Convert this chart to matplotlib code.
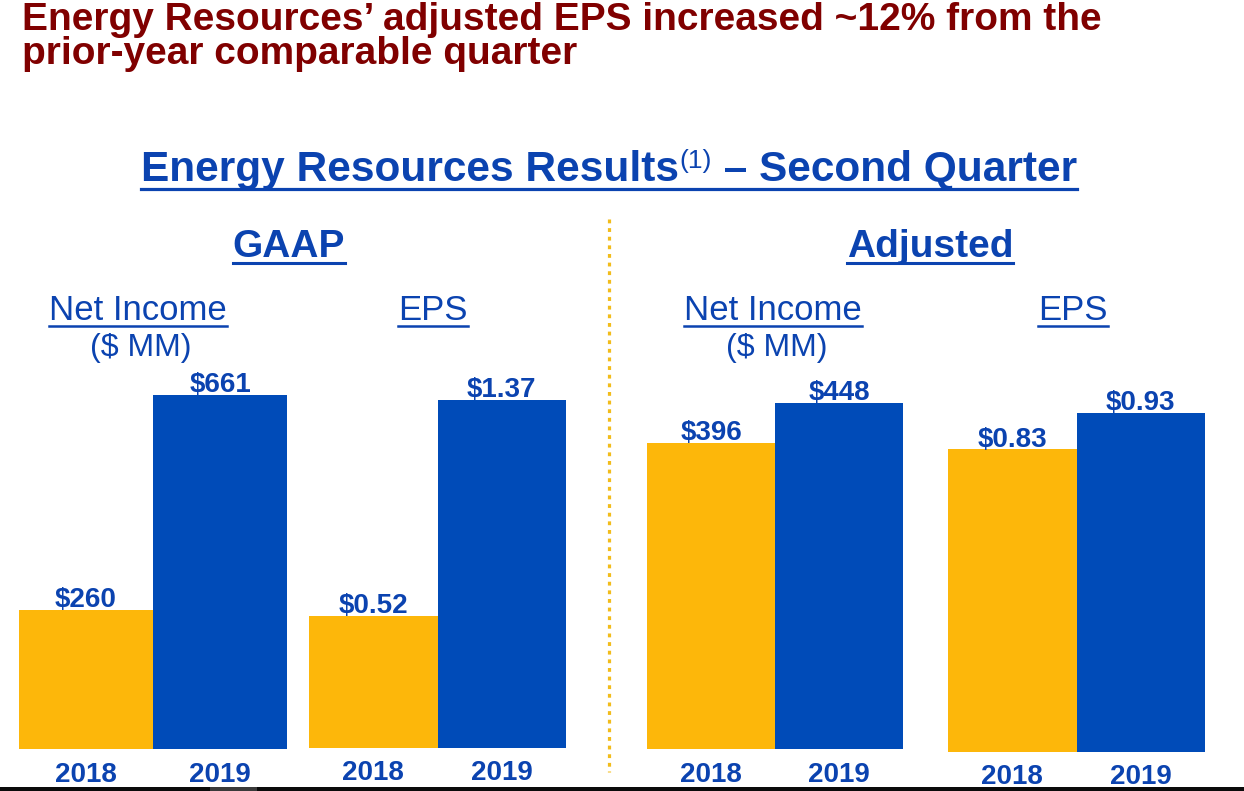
import matplotlib
matplotlib.use('Agg')
import matplotlib.pyplot as plt
from matplotlib.lines import Line2D
from matplotlib.patches import Rectangle

plt.rcParams['font.family'] = ['Liberation Sans', 'DejaVu Sans']

# ── Data ────────────────────────────────────────────────────────────────
years = ['2018', '2019']
gaap_ni = [260, 661]
gaap_eps = [0.52, 1.37]
adj_ni = [396, 448]
adj_eps = [0.83, 0.93]

ni_labels_gaap = ['$260', '$661']
eps_labels_gaap = ['$0.52', '$1.37']
ni_labels_adj = ['$396', '$448']
eps_labels_adj = ['$0.83', '$0.93']

GOLD = '#FDB70A'
BLUE = '#004BB8'
TEXT_BLUE = '#0B43B0'
DARK_RED = '#800000'
DOT_GOLD = '#F2BC1B'

W, H = 1244, 791
fig = plt.figure(figsize=(W / 100, H / 100), dpi=100)
fig.patch.set_facecolor('white')


def fx(px):
    return px / W


def fy(py):
    return 1 - py / H


# panels: (values, labels, left px, right px, top px of tallest bar, bottom px)
panels = [
    (gaap_ni, ni_labels_gaap, 19, 287, 395, 749),
    (gaap_eps, eps_labels_gaap, 309, 566, 400, 748),
    (adj_ni, ni_labels_adj, 647, 903, 403, 749),
    (adj_eps, eps_labels_adj, 948, 1205, 413, 752),
]

for vals, labs, l, r, t, b in panels:
    ax = fig.add_axes([fx(l), fy(b), fx(r - l), (b - t) / H])
    ax.bar([0, 1], vals, width=1.0, color=[GOLD, BLUE])
    ax.set_xlim(-0.5, 1.5)
    ax.set_ylim(0, max(vals))
    ax.set_xticks([0, 1])
    ax.set_xticklabels(years, fontsize=20, fontweight='bold', color=TEXT_BLUE)
    ax.tick_params(axis='x', length=0, pad=9)
    ax.set_yticks([])
    for s in ax.spines.values():
        s.set_visible(False)
    ax.patch.set_alpha(0)
    for i, (v, lab) in enumerate(zip(vals, labs)):
        ax.annotate(lab, (i, v), xytext=(0, 2), textcoords='offset points',
                    ha='center', va='baseline', fontsize=20, fontweight='bold',
                    color=TEXT_BLUE, annotation_clip=False)

renderer = fig.canvas.get_renderer()


def underlined(x, y, s, size, weight='normal', color=TEXT_BLUE, gap=6, lw=2.0):
    t = fig.text(fx(x), fy(y), s, ha='center', va='baseline', fontsize=size,
                 fontweight=weight, color=color)
    bb = t.get_window_extent(renderer)
    yy = fy(y + gap)
    fig.add_artist(Line2D([bb.x0 / W, bb.x1 / W], [yy, yy], color=color, lw=lw))
    return t


# ── Headline ───────────────────────────────────────────────────────────
fig.text(fx(22), fy(30), 'Energy Resources\u2019 adjusted EPS increased ~12% from the',
         ha='left', va='baseline', fontsize=28, fontweight='bold', color=DARK_RED)
fig.text(fx(22), fy(64), 'prior-year comparable quarter',
         ha='left', va='baseline', fontsize=28, fontweight='bold', color=DARK_RED)

# ── Section title with superscript ────────────────────────────────────
part1 = 'Energy Resources Results'
sup = '(1)'
part2 = ' \u2013 Second Quarter'
size_main, size_sup = 30.5, 19
tmp = [fig.text(0, 0, s, fontsize=z, fontweight=w) for s, z, w in
       [(part1, size_main, 'bold'), (sup, size_sup, 'normal'),
        (part2, size_main, 'bold')]]
widths = [t.get_window_extent(renderer).width for t in tmp]
for t in tmp:
    t.remove()
total = sum(widths)
x0 = 609 - total / 2
base = 181
fig.text(fx(x0), fy(base), part1, ha='left', va='baseline', fontsize=size_main,
         fontweight='bold', color=TEXT_BLUE)
fig.text(fx(x0 + widths[0]), fy(base - 13), sup, ha='left', va='baseline',
         fontsize=size_sup, color=TEXT_BLUE)
fig.text(fx(x0 + widths[0] + widths[1]), fy(base), part2, ha='left', va='baseline',
         fontsize=size_main, fontweight='bold', color=TEXT_BLUE)
fig.add_artist(Line2D([fx(x0), fx(x0 + total)], [fy(base + 8), fy(base + 8)],
                      color=TEXT_BLUE, lw=2.3))

# ── Group headings ─────────────────────────────────────────────────────
underlined(289, 257, 'GAAP', 28, weight='bold', lw=2.2)
underlined(930, 257, 'Adjusted', 28, weight='bold', lw=2.2)

underlined(138, 320, 'Net Income', 25, lw=1.8)
underlined(433, 320, 'EPS', 25, lw=1.8)
underlined(773, 320, 'Net Income', 25, lw=1.8)
underlined(1073, 320, 'EPS', 25, lw=1.8)

fig.text(fx(141), fy(356), '($ MM)', ha='center', va='baseline', fontsize=23,
         color=TEXT_BLUE)
fig.text(fx(777), fy(356), '($ MM)', ha='center', va='baseline', fontsize=23,
         color=TEXT_BLUE)

# ── Dotted divider ─────────────────────────────────────────────────────
fig.add_artist(Line2D([fx(609), fx(609)], [fy(219), fy(772)], color=DOT_GOLD,
                      lw=2.3, linestyle=(0, (1.2, 1.5)), dash_capstyle='butt'))

# ── Black strip at bottom edge ─────────────────────────────────────────
fig.add_artist(Rectangle((0, 0), 1, (H - 787) / H, transform=fig.transFigure,
                         facecolor='#0a0a0a', edgecolor='none'))
fig.add_artist(Rectangle((fx(210), 0), fx(47), (H - 787) / H,
                         transform=fig.transFigure, facecolor='#3a3a3a',
                         edgecolor='none'))

fig.savefig('out.png', dpi=100)
